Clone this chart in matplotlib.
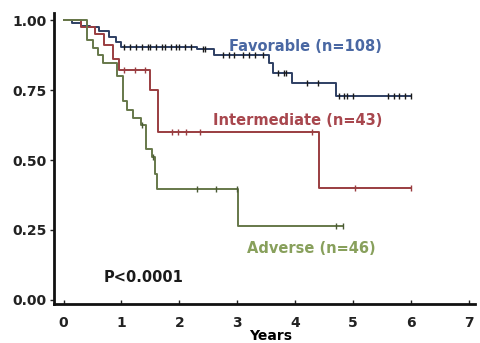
import matplotlib
matplotlib.use("Agg")
import matplotlib.pyplot as plt

plt.rcParams['font.family'] = ['DejaVu Sans']
plt.rcParams['font.weight'] = 'bold'

# Kaplan-Meier step data (time in years, survival proportion)
fav_t = [0, 0.15, 0.3, 0.45, 0.62, 0.78, 0.9, 1.0, 2.3, 2.6, 3.55, 3.62, 3.95, 4.7, 6.0]
fav_s = [1.0, 0.99, 0.98, 0.975, 0.96, 0.94, 0.92, 0.905, 0.895, 0.875, 0.845, 0.81, 0.775, 0.73, 0.73]
fav_cens = [1.05, 1.15, 1.25, 1.35, 1.45, 1.5, 1.6, 1.7, 1.75, 1.85, 1.95, 2.0, 2.1, 2.2,
            2.4, 2.45, 2.75, 2.85, 2.95, 3.1, 3.2, 3.3, 3.45, 3.7, 3.8, 3.85, 4.2, 4.4,
            4.75, 4.85, 4.9, 5.0, 5.6, 5.7, 5.8, 5.9, 6.0]

int_t = [0, 0.3, 0.55, 0.7, 0.85, 0.95, 1.5, 1.63, 4.42, 6.0]
int_s = [1.0, 0.975, 0.95, 0.91, 0.86, 0.82, 0.75, 0.60, 0.40, 0.40]
int_cens = [1.05, 1.23, 1.4, 1.87, 1.97, 2.12, 2.35, 4.29, 5.03, 6.0]

adv_t = [0, 0.4, 0.5, 0.6, 0.68, 0.93, 1.02, 1.1, 1.2, 1.34, 1.43, 1.52, 1.58, 1.62, 3.02, 4.83]
adv_s = [1.0, 0.93, 0.90, 0.875, 0.845, 0.80, 0.71, 0.68, 0.65, 0.625, 0.54, 0.51, 0.45,
         0.395, 0.265, 0.265]
adv_cens = [1.35, 1.55, 2.3, 2.63, 2.99, 4.7, 4.83]

xticks = [0, 1, 2, 3, 4, 5, 6, 7]
yticks = [0.0, 0.25, 0.5, 0.75, 1.0]


def surv_at(t_list, s_list, t):
    val = s_list[0]
    for ti, si in zip(t_list, s_list):
        if ti <= t:
            val = si
    return val


fig = plt.figure(figsize=(4.8, 3.43), dpi=100)
ax = fig.add_axes([0.112, 0.114, 0.878, 0.848])

curves = [
    (fav_t, fav_s, fav_cens, '#2e3f63', '#1a1a1a'),
    (int_t, int_s, int_cens, '#9a3d40', '#9a3d40'),
    (adv_t, adv_s, adv_cens, '#66784a', '#4a5a34'),
]
for t, s, cens, col, mcol in curves:
    ax.step(t, s, where='post', color=col, lw=1.4)
    cy = [surv_at(t, s, c) for c in cens]
    ax.plot(cens, cy, ls='none', marker='|', ms=4, mew=1.0, color=mcol)

ax.text(2.85, 0.905, 'Favorable (n=108)', color='#4a68a3', fontsize=10.5,
        fontweight='bold', ha='left', va='center')
ax.text(2.58, 0.64, 'Intermediate (n=43)', color='#a8474e', fontsize=10.5,
        fontweight='bold', ha='left', va='center')
ax.text(3.17, 0.185, 'Adverse (n=46)', color='#88a05c', fontsize=10.5,
        fontweight='bold', ha='left', va='center')
ax.text(0.7, 0.082, 'P<0.0001', color='#1a1a1a', fontsize=10.5,
        fontweight='bold', ha='left', va='center')

ax.set_xlim(-0.17, 7.11)
ax.set_ylim(-0.014, 1.025)
ax.set_xticks(xticks)
ax.set_yticks(yticks)
ax.set_yticklabels(['%.2f' % v for v in yticks])
ax.tick_params(axis='both', labelsize=10, width=1, length=3, colors='#222222')
ax.tick_params(axis='x', direction='in', pad=9)
ax.tick_params(axis='y', pad=2)
for lab in ax.get_xticklabels() + ax.get_yticklabels():
    lab.set_fontweight('bold')

ax.set_xlabel('Years', fontsize=10, fontweight='bold')
ax.xaxis.set_label_coords(0.515, -0.085)

ax.spines['top'].set_visible(False)
ax.spines['right'].set_visible(False)
ax.spines['left'].set_linewidth(2)
ax.spines['bottom'].set_linewidth(2)
ax.spines['left'].set_color('#111111')
ax.spines['bottom'].set_color('#111111')

fig.savefig('out.png', dpi=100, facecolor='white')
